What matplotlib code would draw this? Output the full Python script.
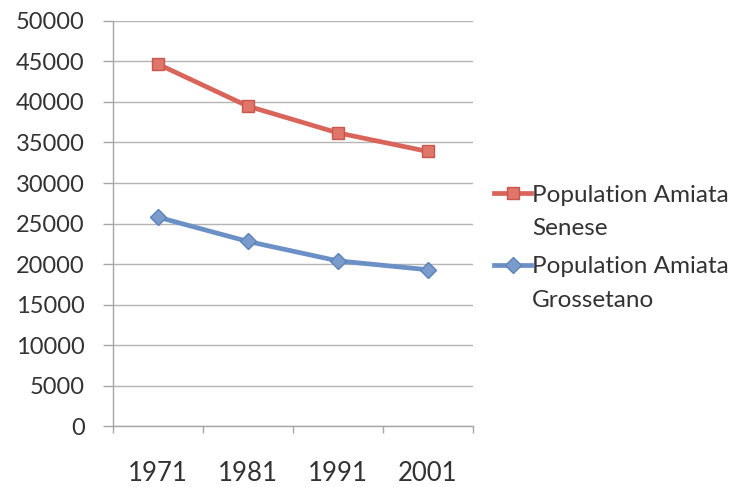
import matplotlib.pyplot as plt
from matplotlib.ticker import FixedLocator
from matplotlib.legend_handler import HandlerLine2D

years = ['1971', '1981', '1991', '2001']
senese = [44700, 39500, 36200, 33900]
grossetano = [25800, 22800, 20400, 19300]
yticks = list(range(0, 50001, 5000))

plt.rcParams['font.family'] = ['Lato', 'DejaVu Sans']


class TopHandler(HandlerLine2D):
    # put the legend line next to the first line of a two-line label
    def create_artists(self, legend, orig_handle, xdescent, ydescent,
                       width, height, fontsize, trans):
        arts = super().create_artists(legend, orig_handle, xdescent, ydescent,
                                      width, height, fontsize, trans)
        for a in arts:
            a.set_ydata([y + fontsize * 0.47 for y in a.get_ydata()])
        return arts


fig = plt.figure(figsize=(7.5, 4.87), dpi=100)
ax = fig.add_axes([0.150, 0.125, 0.480, 0.832])

x = range(len(years))
ax.plot(x, senese, color='#D8645A', lw=3.4, marker='s', ms=9,
        mfc='#E0756A', mec='#C9564C', mew=1,
        label='Population Amiata\nSenese')
ax.plot(x, grossetano, color='#6A90C6', lw=3.4, marker='D', ms=8,
        mfc='#7A9CCD', mec='#5D82B8', mew=1,
        label='Population Amiata\nGrossetano')

ax.set_xlim(-0.5, len(years) - 0.5)
ax.set_ylim(0, 50000)
ax.set_yticks(yticks)
ax.set_yticklabels([str(v) for v in yticks])

# category boundaries as tick marks, labels in between
ax.xaxis.set_major_locator(FixedLocator([i - 0.5 for i in range(len(years) + 1)]))
ax.xaxis.set_major_formatter(plt.NullFormatter())
ax.xaxis.set_minor_locator(FixedLocator(list(x)))
ax.set_xticklabels(years, minor=True)
ax.tick_params(axis='x', which='major', length=5, width=1, color='#A6A6A6', direction='out')
ax.tick_params(axis='x', which='minor', length=0, pad=25, labelsize=18.5, labelcolor='#333333')
ax.tick_params(axis='y', length=7, width=1, color='#A6A6A6', pad=13,
               labelsize=17, labelcolor='#333333')

ax.grid(axis='y', color='#B4B4B4', lw=1)
ax.set_axisbelow(True)
for s in ['top', 'right']:
    ax.spines[s].set_visible(False)
for s in ['left', 'bottom']:
    ax.spines[s].set_color('#A6A6A6')
    ax.spines[s].set_linewidth(1)

leg = ax.legend(loc='center left', bbox_to_anchor=(1.0, 0.44), frameon=False,
                fontsize=17.5, handlelength=1.5, handletextpad=0.05,
                handleheight=2.7, labelspacing=0.7, labelcolor='#333333',
                handler_map={plt.Line2D: TopHandler()})
for t in leg.get_texts():
    t.set_linespacing(1.75)

fig.savefig('out.png', dpi=100, facecolor='white')
